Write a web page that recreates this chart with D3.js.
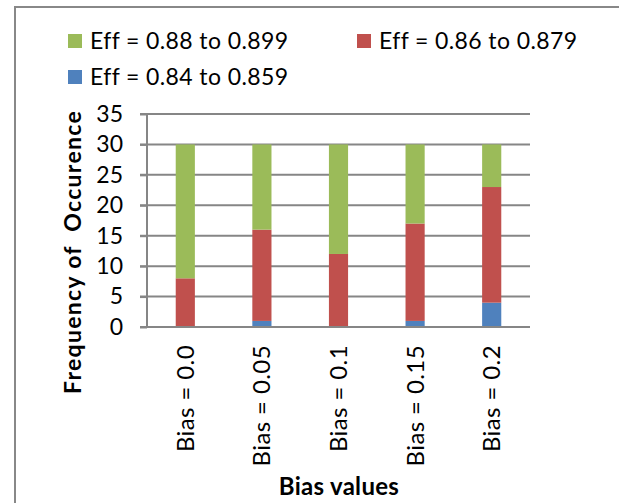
<!DOCTYPE html>
<html><head><meta charset="utf-8">
<script src="https://cdnjs.cloudflare.com/ajax/libs/d3/7.8.5/d3.min.js"></script>
<style>body{margin:0;background:#fff}svg{display:block}</style>
</head><body>
<script>
const categories = ["Bias = 0.0","Bias = 0.05","Bias = 0.1","Bias = 0.15","Bias = 0.2"];
const seriesNames = ["Eff = 0.84 to 0.859","Eff = 0.86 to 0.879","Eff = 0.88 to 0.899"];
const blueVals = [0,1,0,1,4];
const redVals = [8,15,12,16,19];
const greenVals = [22,14,18,13,7];
const yTicks = [0,5,10,15,20,25,30,35];
const colors = ["#4f81bd","#c0504d","#9bbb59"];

const W=619,H=503;
const svg=d3.select("body").append("svg").attr("width",W).attr("height",H);
const font="Lato, 'Open Sans', sans-serif";
svg.append("rect").attr("x",15).attr("y",7).attr("width",W).attr("height",H).attr("fill","#fff").attr("stroke","#888").attr("stroke-width",2);

const x=d3.scaleBand().domain(categories).range([147,530]).paddingInner(0.75).paddingOuter(0.375);
const y=d3.scaleLinear().domain([0,35]).range([327,114]);

const rows=categories.map((c,i)=>({cat:c,blue:blueVals[i],red:redVals[i],green:greenVals[i]}));
const stack=d3.stack().keys(["blue","red","green"])(rows);

// gridlines
svg.append("g").selectAll("line").data(yTicks.filter(t=>t>0)).join("line")
 .attr("x1",140).attr("x2",530).attr("y1",d=>y(d)).attr("y2",d=>y(d))
 .attr("stroke","#868686").attr("stroke-width",2);

// bars
stack.forEach((s,k)=>{
  svg.append("g").attr("fill",colors[k]).selectAll("rect").data(s).join("rect")
   .attr("x",d=>x(d.data.cat)).attr("width",x.bandwidth())
   .attr("y",d=>y(d[1])).attr("height",d=>y(d[0])-y(d[1]));
});

// axes
svg.append("line").attr("x1",147).attr("x2",147).attr("y1",114).attr("y2",327).attr("stroke","#868686").attr("stroke-width",2);
svg.append("line").attr("x1",140).attr("x2",530).attr("y1",327).attr("y2",327).attr("stroke","#868686").attr("stroke-width",2);

const yAxis=svg.append("g").attr("transform","translate(147,0)")
 .call(d3.axisLeft(y).tickValues(yTicks).tickSize(7).tickPadding(17));
yAxis.select(".domain").remove();
yAxis.selectAll(".tick line").attr("stroke","#868686").attr("stroke-width",2);
yAxis.selectAll("text").attr("font-family",font).attr("font-size",23).attr("fill","#000");

const xAxis=svg.append("g").attr("transform","translate(0,327)")
 .call(d3.axisBottom(x).tickSize(0));
xAxis.select(".domain").remove();
xAxis.selectAll("text").attr("font-family",font).attr("font-size",24).attr("letter-spacing",0.4).attr("fill","#000")
 .attr("text-anchor","end").attr("transform","rotate(-90)").attr("x",-18).attr("y",0).attr("dy","0.35em");

svg.append("text").attr("transform","translate(81,252) rotate(-90)").attr("text-anchor","middle")
 .attr("font-family",font).attr("font-weight","bold").attr("font-size",23).attr("letter-spacing",1.3)
 .style("white-space","pre")
 .text("Frequency of  Occurence");
svg.append("text").attr("x",339).attr("y",495).attr("text-anchor","middle")
 .attr("font-family",font).attr("font-weight","bold").attr("font-size",24).attr("letter-spacing",0.3).text("Bias values");

// legend
const legendItems=[{name:seriesNames[2],c:colors[2],x:68,y:34},{name:seriesNames[1],c:colors[1],x:357,y:34},{name:seriesNames[0],c:colors[0],x:68,y:70}];
const lg=svg.append("g").selectAll("g").data(legendItems).join("g");
lg.append("rect").attr("x",d=>d.x).attr("y",d=>d.y).attr("width",14).attr("height",14).attr("fill",d=>d.c);
lg.append("text").attr("x",d=>d.x+22).attr("y",d=>d.y+15).attr("font-family",font).attr("font-size",23).attr("letter-spacing",0.4).attr("fill","#000").text(d=>d.name);
</script>
</body></html>
